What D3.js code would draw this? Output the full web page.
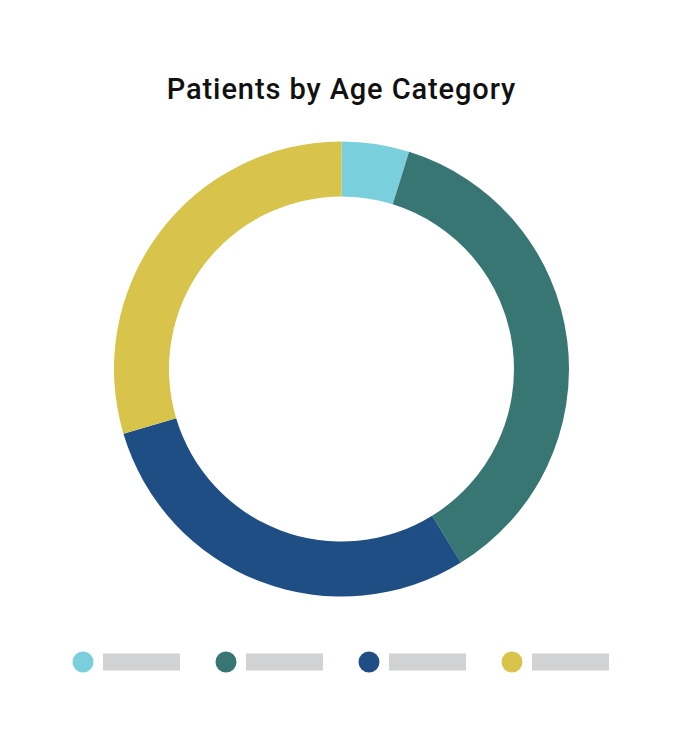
<!DOCTYPE html>
<html lang="en">
<head>
  <meta charset="UTF-8">
  <title>Patients by Age Category</title>
  <style>
    body {
      margin: 0;
      background: #fff;
      font-family: Roboto, Arial, sans-serif;
    }
  </style>
</head>
<body>
  <div id="chart"></div>

  <script src="https://d3js.org/d3.v7.min.js"></script>
  <script>
    // age categories (labels are hidden in the source, shown as grey bars)
    const categories = ["Age group 1", "Age group 2", "Age group 3", "Age group 4"];
    const values = [4.8, 36.4, 29.2, 29.6];
    const colors = ["#7acfdc", "#387673", "#1f4e85", "#d8c44a"];

    const width = 690;
    const height = 747;

    const svg = d3.select("#chart").append("svg")
      .attr("width", width)
      .attr("height", height);

    // Title
    svg.append("text")
      .attr("x", 341.5)
      .attr("y", 99)
      .attr("text-anchor", "middle")
      .attr("font-size", 29)
      .attr("font-weight", 500)
      .attr("letter-spacing", 0.9)
      .attr("fill", "#111")
      .text("Patients by Age Category");

    // Donut
    const pie = d3.pie().sort(null).value(d => d.value);
    const arc = d3.arc().innerRadius(172.5).outerRadius(227.5);
    const color = d3.scaleOrdinal().domain(categories).range(colors);

    const slices = categories.map((c, i) => ({ name: c, value: values[i] }));

    svg.append("g")
      .attr("transform", "translate(341.5, 369)")
      .selectAll("path")
      .data(pie(slices))
      .enter()
      .append("path")
      .attr("d", arc)
      .attr("fill", d => color(d.data.name));

    // Legend
    const legendX = d3.scalePoint().domain(categories).range([83, 512]);

    const legend = svg.append("g")
      .selectAll("g")
      .data(categories)
      .enter()
      .append("g")
      .attr("transform", d => `translate(${legendX(d)}, 662)`);

    legend.append("circle")
      .attr("r", 10.5)
      .attr("fill", d => color(d));

    legend.append("rect")
      .attr("x", 20)
      .attr("y", -8.5)
      .attr("width", 77)
      .attr("height", 17)
      .attr("fill", "#d1d2d4");
  </script>
</body>
</html>
